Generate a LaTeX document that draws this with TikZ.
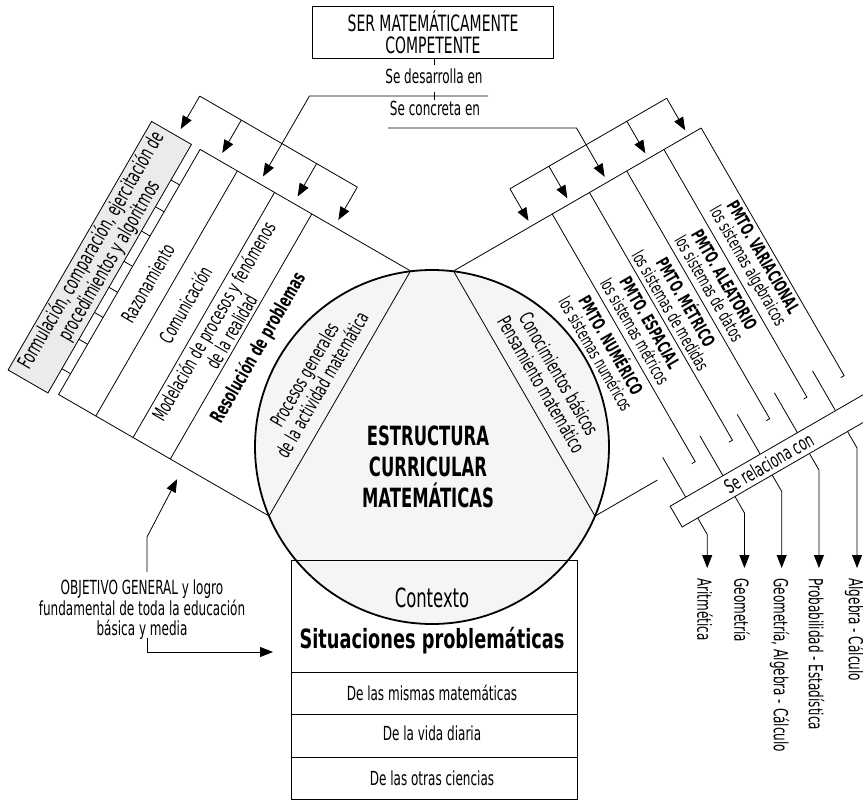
\documentclass[tikz,border=0pt]{standalone}
\usepackage{fontspec}
\setmainfont{DejaVu Sans}[FakeStretch=0.62]
\newfontfamily\widebold{DejaVu Sans Bold}[FakeStretch=0.67]
\usetikzlibrary{arrows.meta}
\begin{document}
\begin{tikzpicture}[x=1pt,y=-1pt,line width=0.8pt,
 arr/.style={-{Triangle[length=13pt,width=10pt]}},
 txt/.style={font=\fontsize{19.4}{20.5}\selectfont,inner sep=0pt,align=center},
 txtb/.style={font=\bfseries\fontsize{19.4}{20.5}\selectfont,inner sep=0pt,align=center},
 sertxt/.style={font=\fontsize{22.5}{21.5}\selectfont,inner sep=0pt,align=center},
 pmt/.style={font=\fontsize{17.7}{17.5}\selectfont,inner sep=0pt,align=center},
 big/.style={font=\fontsize{26.5}{30}\selectfont,inner sep=0pt},
 bigb/.style={font=\widebold\fontsize{26.5}{30}\selectfont,inner sep=0pt},
 ttl/.style={font=\bfseries\fontsize{26.5}{31}\selectfont,inner sep=0pt,align=center},
 lbl/.style={font=\fontsize{19.4}{20.5}\selectfont,inner sep=0pt,rotate=-90,anchor=west}]
\fill[white] (0,0) rectangle (863,801);
\useasboundingbox (0,0) rectangle (863,801);
\coordinate (yline) at (0,568);

% ---------- top
\node[draw,minimum width=241pt,minimum height=52pt,sertxt] (ser) at (433,32) {SER MATEMÁTICAMENTE\\COMPETENTE};
\node[txt,anchor=base] (desa) at (434,83) {Se desarrolla en};
\node[txt,anchor=base] (conc) at (435,115) {Se concreta en};
\coordinate (t1a) at (434,58); \coordinate (t1b) at (434,65);
\draw (t1a) -- (t1b);
\coordinate (t2a) at (434,92); \coordinate (t2b) at (434,100);
\draw (t2a) -- (t2b);
\coordinate (d1) at (488,96);
\coordinate (c0) at (388,128);

% ---------- context box (under circle)
\draw[fill=white] (291,560) rectangle (577,799);
\coordinate (bxl) at (291,560); \coordinate (bxr) at (577,560);
\foreach \yy in {672,714,757} \draw (291,\yy) -- (577,\yy);

% ---------- left fan
\begin{scope}[shift={(58.6,394.5)},x={(0.5pt,0.866pt)},y={(0.866pt,-0.5pt)}]
 \draw[fill=white] (0,0) -- (283,0) -- (283,243) -- (0,243) -- cycle;
 \foreach \b in {43,86,129} \draw (0,\b) -- (283,\b);
 \draw[fill=gray!16] (-4,-56) -- (283,-56) -- (283,-10) -- (-4,-10) -- cycle;
 \foreach \a in {24,58,89,118,148,183,211,242} \draw (\a,-10) -- (\a,0);
 \coordinate (lb1) at (329,-27); \coordinate (lb2) at (329,155);
 \draw (lb1) -- (lb2);
 \foreach \b in {-27,21,108,155} \draw[arr] (329,\b) -- (291,\b);
 \coordinate (dcorner) at (384,68); \coordinate (dtip) at (291,68);
 \coordinate (otip) at (-14,145);
 \coordinate (lc1) at (283,243); \coordinate (lc2) at (0,243);
 \node[txt,rotate=60,font=\fontsize{20.5}{21}\selectfont] (formu) at (141,-33) {Formulación, comparación, ejercitación de\\procedimientos y algoritmos};
 \node[txt,rotate=60] (razo) at (141,21.5) {Razonamiento};
 \node[txt,rotate=60] (comu) at (141,64.5) {Comunicación};
 \node[txt,rotate=60] (mode) at (141,107.5) {Modelación de procesos y fenómenos\\de la realidad};
 \node[txtb,rotate=60] (reso) at (140,150) {Resolución de problemas};
\end{scope}

% ---------- right fan
\begin{scope}[shift={(453.5,271)},x={(0.5pt,-0.866pt)},y={(0.866pt,0.5pt)}]
 \draw (0,0) -- (0,286);
 \draw (0,0) -- (283,0) -- (283,72);
 \foreach \b in {114,157,200,243,286} \draw (0,\b) -- (286,\b) -- (286,\b-4);
 \draw (-43,90) -- (-43,271);
 \foreach \b in {90,135,225,271} \draw[arr] (-43,\b) -- (-6,\b);
 \coordinate (ccorner) at (-62.4,178); \coordinate (ctip) at (-6,178);
 \coordinate (rc1) at (0,0); \coordinate (rc2) at (283,0);
 \foreach \b/\n in {88/1,131/2,174/3,217/4,261/5} {
   \coordinate (s\n) at (266,\b); \coordinate (k\n) at (355,\b);
   \draw[arr] (s\n) -- (k\n) -- (k\n |- yline);
 }
 \draw[fill=white] (312,70) -- (336,70) -- (336,300) -- (312,300) -- cycle;
 \node[txt,rotate=30] (rela) at (324,177) {Se relaciona con};
 \node[pmt,rotate=-60] (vari) at (143,265) {\textbf{PMTO. VARIACIONAL}\\los sistemas algebraicos};
 \node[pmt,rotate=-60] (alea) at (143,221.5) {\textbf{PMTO. ALEATORIO}\\los sistemas de datos};
 \node[pmt,rotate=-60] (metr) at (143,178.5) {\textbf{PMTO. MÉTRICO}\\los sistemas de medidas};
 \node[pmt,rotate=-60] (espa) at (143,135.5) {\textbf{PMTO. ESPACIAL}\\los sistemas métricos};
 \node[pmt,rotate=-60] (nume) at (143,92) {\textbf{PMTO. NUMÉRICO}\\los sistemas numéricos};
\end{scope}

\draw[arr] (d1) -- (dcorner) -- (dtip);
\draw[arr] (c0) -- (ccorner) -- (ctip);

% ---------- circle
\draw[fill=gray!8,line width=1.8pt] (432,447) circle[radius=177pt];
\draw (lc1) -- (lc2);
\draw (rc1) -- (rc2);
\draw (bxl) -- (bxr);

\begin{scope}[shift={(58.6,394.5)},x={(0.5pt,0.866pt)},y={(0.866pt,-0.5pt)}]
 \node[txt,rotate=60] (proc) at (140,213) {Procesos generales\\de la actividad matemática};
\end{scope}
\begin{scope}[shift={(453.5,271)},x={(0.5pt,-0.866pt)},y={(0.866pt,0.5pt)}]
 \node[txt,rotate=-60] (cono) at (142,30) {Conocimientos básicos\\Pensamiento matemático};
\end{scope}

\node[ttl] (estr) at (428,467) {ESTRUCTURA\\CURRICULAR\\MATEMÁTICAS};
\node[big,anchor=base] (cont) at (432,607) {Contexto};
\node[bigb,anchor=base] (situ) at (432,648) {Situaciones problemáticas};
\node[txt,anchor=base] (r1) at (432,700) {De las mismas matemáticas};
\node[txt,anchor=base] (r2) at (432,740) {De la vida diaria};
\node[txt,anchor=base] (r3) at (432,785) {De las otras ciencias};

% ---------- objective
\node[txt] (obj) at (142,610) {OBJETIVO GENERAL y logro\\fundamental de toda la educación\\básica y media};
\coordinate (o1) at (147,572); \coordinate (o2) at (147,537);
\draw[arr] (o1) -- (o2) -- (otip);
\coordinate (o3) at (147,638); \coordinate (o4) at (147,652); \coordinate (o5) at (273,652);
\draw[arr] (o3) -- (o4) -- (o5);

% ---------- labels
\node[lbl] (l1) at (705,578) {Aritmética};
\node[lbl] (l2) at (742,578) {Geometría};
\node[lbl] (l3) at (779.5,578) {Geometría, Algebra - Cálculo};
\node[lbl] (l4) at (816.5,578) {Probabilidad - Estadística};
\node[lbl] (l5) at (854.5,578) {Algebra - Cálculo};
\end{tikzpicture}
\end{document}
